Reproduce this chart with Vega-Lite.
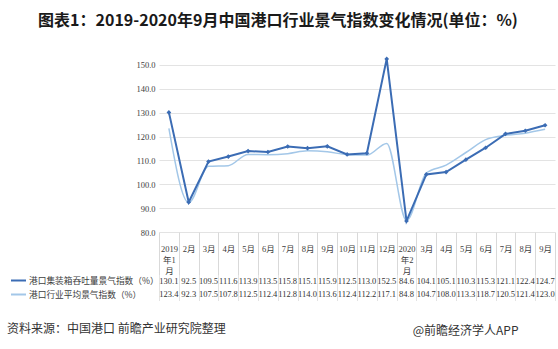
{
  "$schema": "https://vega.github.io/schema/vega-lite/v6.json",
  "background": "white",
  "padding": {"left": 7, "top": 13, "right": 3, "bottom": 5},
  "bounds": "flush",
  "spacing": 42.5,
  "title": {"text": "资料来源：中国港口 前瞻产业研究院整理", "orient": "bottom", "anchor": "start", "frame": "bounds", "fontSize": 12, "fontWeight": "normal", "font": "Noto Sans CJK SC", "color": "#333333", "offset": -12, "dx": -3},
  "data": {"values": [
    {"key": "2019-01", "series": "港口集装箱吞吐量景气指数（%）", "value": 130.1},
    {"key": "2019-02", "series": "港口集装箱吞吐量景气指数（%）", "value": 92.5},
    {"key": "2019-03", "series": "港口集装箱吞吐量景气指数（%）", "value": 109.5},
    {"key": "2019-04", "series": "港口集装箱吞吐量景气指数（%）", "value": 111.6},
    {"key": "2019-05", "series": "港口集装箱吞吐量景气指数（%）", "value": 113.9},
    {"key": "2019-06", "series": "港口集装箱吞吐量景气指数（%）", "value": 113.5},
    {"key": "2019-07", "series": "港口集装箱吞吐量景气指数（%）", "value": 115.8},
    {"key": "2019-08", "series": "港口集装箱吞吐量景气指数（%）", "value": 115.1},
    {"key": "2019-09", "series": "港口集装箱吞吐量景气指数（%）", "value": 115.9},
    {"key": "2019-10", "series": "港口集装箱吞吐量景气指数（%）", "value": 112.5},
    {"key": "2019-11", "series": "港口集装箱吞吐量景气指数（%）", "value": 113.0},
    {"key": "2019-12", "series": "港口集装箱吞吐量景气指数（%）", "value": 152.5},
    {"key": "2020-02", "series": "港口集装箱吞吐量景气指数（%）", "value": 84.6},
    {"key": "2020-03", "series": "港口集装箱吞吐量景气指数（%）", "value": 104.1},
    {"key": "2020-04", "series": "港口集装箱吞吐量景气指数（%）", "value": 105.1},
    {"key": "2020-05", "series": "港口集装箱吞吐量景气指数（%）", "value": 110.3},
    {"key": "2020-06", "series": "港口集装箱吞吐量景气指数（%）", "value": 115.3},
    {"key": "2020-07", "series": "港口集装箱吞吐量景气指数（%）", "value": 121.1},
    {"key": "2020-08", "series": "港口集装箱吞吐量景气指数（%）", "value": 122.4},
    {"key": "2020-09", "series": "港口集装箱吞吐量景气指数（%）", "value": 124.7},
    {"key": "2019-01", "series": "港口行业平均景气指数（%）", "value": 123.4},
    {"key": "2019-02", "series": "港口行业平均景气指数（%）", "value": 92.3},
    {"key": "2019-03", "series": "港口行业平均景气指数（%）", "value": 107.5},
    {"key": "2019-04", "series": "港口行业平均景气指数（%）", "value": 107.8},
    {"key": "2019-05", "series": "港口行业平均景气指数（%）", "value": 112.5},
    {"key": "2019-06", "series": "港口行业平均景气指数（%）", "value": 112.4},
    {"key": "2019-07", "series": "港口行业平均景气指数（%）", "value": 112.8},
    {"key": "2019-08", "series": "港口行业平均景气指数（%）", "value": 114.0},
    {"key": "2019-09", "series": "港口行业平均景气指数（%）", "value": 113.6},
    {"key": "2019-10", "series": "港口行业平均景气指数（%）", "value": 112.4},
    {"key": "2019-11", "series": "港口行业平均景气指数（%）", "value": 112.2},
    {"key": "2019-12", "series": "港口行业平均景气指数（%）", "value": 117.1},
    {"key": "2020-02", "series": "港口行业平均景气指数（%）", "value": 84.8},
    {"key": "2020-03", "series": "港口行业平均景气指数（%）", "value": 104.7},
    {"key": "2020-04", "series": "港口行业平均景气指数（%）", "value": 108.0},
    {"key": "2020-05", "series": "港口行业平均景气指数（%）", "value": 113.3},
    {"key": "2020-06", "series": "港口行业平均景气指数（%）", "value": 118.7},
    {"key": "2020-07", "series": "港口行业平均景气指数（%）", "value": 120.5},
    {"key": "2020-08", "series": "港口行业平均景气指数（%）", "value": 121.4},
    {"key": "2020-09", "series": "港口行业平均景气指数（%）", "value": 123.0}
  ]},
  "vconcat": [
    {
      "width": 396,
      "height": 191,
      "title": {"text": "图表1：2019-2020年9月中国港口行业景气指数变化情况(单位：%)", "anchor": "middle", "frame": "group", "dx": -79, "offset": 12, "fontSize": 16, "fontWeight": "bold", "font": "Noto Sans CJK SC", "color": "#1a1a1a"},
      "encoding": {
        "x": {"field": "key", "type": "ordinal", "sort": "ascending",
          "scale": {"type": "band", "paddingInner": 0, "paddingOuter": 0},
          "axis": {"title": null, "domain": false, "grid": false, "ticks": true, "tickBand": "extent", "tickSize": 42.5, "tickColor": "#d9d9d9", "labelPadding": -26.5, "labelAngle": 0, "labelBaseline": "middle", "labelLineHeight": 11, "labelOverlap": false, "labelFont": "Liberation Serif, Noto Sans CJK SC", "labelFontSize": 8.5, "labelColor": "#404040",
            "labelExpr": "!isString(datum.value) ? '' : datum.value == '2019-01' ? ['2019', '年1', '月'] : datum.value == '2020-02' ? ['2020', '年2', '月'] : toNumber(split(datum.value, '-')[1]) + '月'"}},
        "y": {"field": "value", "type": "quantitative",
          "scale": {"domain": [80, 160], "nice": false, "zero": false},
          "axis": {"title": null, "values": [80, 90, 100, 110, 120, 130, 140, 150], "format": ".1f", "domain": false, "ticks": false, "labelPadding": 4, "gridColor": "#e3e3e3", "labelFont": "Liberation Serif", "labelFontSize": 8.5, "labelColor": "#404040"}},
        "color": {"field": "series", "type": "nominal",
          "scale": {"domain": ["港口集装箱吞吐量景气指数（%）", "港口行业平均景气指数（%）"], "range": ["#3b6cb4", "#a3c7e8"]},
          "legend": {"orient": "none", "legendX": -149, "legendY": 231, "direction": "vertical", "title": null, "padding": 0, "labelFontSize": 8.7, "labelFont": "Noto Sans CJK SC", "labelColor": "#404040", "symbolType": "stroke", "symbolSize": 225, "symbolStrokeWidth": 2, "rowPadding": 0, "labelLimit": 300, "labelOffset": 2}}
      },
      "layer": [
        {"transform": [{"filter": "datum.series == '港口行业平均景气指数（%）'"}],
         "mark": {"type": "line", "interpolate": "monotone", "strokeWidth": 1.5}},
        {"transform": [{"filter": "datum.series == '港口集装箱吞吐量景气指数（%）'"}],
         "mark": {"type": "line", "strokeWidth": 2, "point": {"shape": "diamond", "size": 22, "filled": true, "color": "#3b6cb4"}}}
      ]
    },
    {
      "width": 396,
      "height": 26,
      "mark": {"type": "text", "fontSize": 8.5, "font": "Liberation Serif", "color": "#333333"},
      "encoding": {
        "x": {"field": "key", "type": "ordinal", "sort": "ascending",
          "scale": {"type": "band", "paddingInner": 0, "paddingOuter": 0},
          "axis": {"labels": false, "ticks": false, "domain": false, "grid": true, "tickBand": "extent", "gridColor": "#e3e3e3",
            "title": "@前瞻经济学人APP", "titleFont": "Noto Sans CJK SC", "titleFontSize": 12, "titleFontWeight": "normal", "titleColor": "#333333", "titleX": 359, "titleAlign": "right", "titleBaseline": "top", "titlePadding": 24.5}},
        "y": {"field": "series", "type": "nominal",
          "scale": {"domain": ["港口集装箱吞吐量景气指数（%）", "港口行业平均景气指数（%）"], "paddingInner": 0, "paddingOuter": 0},
          "axis": null},
        "text": {"field": "value", "type": "quantitative", "format": ".1f"}
      }
    }
  ],
  "config": {"view": {"stroke": null}}
}
